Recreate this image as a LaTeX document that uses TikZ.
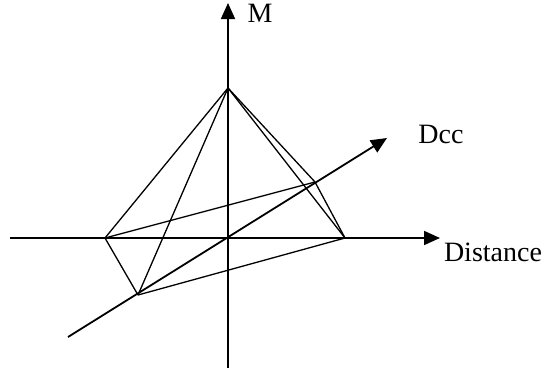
\documentclass[tikz,border=0pt]{standalone}
\usepackage{fontspec}
\setmainfont{Liberation Serif}
\usetikzlibrary{arrows.meta}

\begin{document}
\begin{tikzpicture}[x=0.5pt, y=-0.5pt, font=\fontsize{14pt}{16pt}\selectfont,
  axis/.style={line width=0.9pt, -{Triangle[length=8pt,width=7pt]}},
  edge/.style={line width=0.65pt},
  lbl/.style={inner sep=0pt}]
\useasboundingbox (0,0) rectangle (547,375);
% axes
\coordinate (vbot) at (228,368);
\coordinate (vtop) at (228,3);
\coordinate (hleft) at (10,238);
\coordinate (hright) at (440,238);
\coordinate (dlow) at (68,337);
\coordinate (dhigh) at (387,138);
\draw[axis] (vbot) -- (vtop);
\draw[axis] (hleft) -- (hright);
\draw[axis] (dlow) -- (dhigh);
\node[lbl] (mlabel) at (260,13) {M};
\node[lbl] (dcclabel) at (441,134) {Dcc};
\node[lbl] (distlabel) at (493,252) {Distance};
% pyramid
\coordinate (origin) at (228,238);
\coordinate (apex) at (228,88);
\coordinate (left) at (105,238);
\coordinate (right) at (345,238);
\coordinate (front) at (138,295);
\coordinate (back) at (315,182);
\draw[edge] (apex) -- (left);
\draw[edge] (apex) -- (front);
\draw[edge] (apex) -- (right);
\draw[edge] (apex) -- (back);
\draw[edge] (left) -- (front);
\draw[edge] (front) -- (right);
\draw[edge] (left) -- (back);
\draw[edge] (back) -- (right);
\end{tikzpicture}
\end{document}
